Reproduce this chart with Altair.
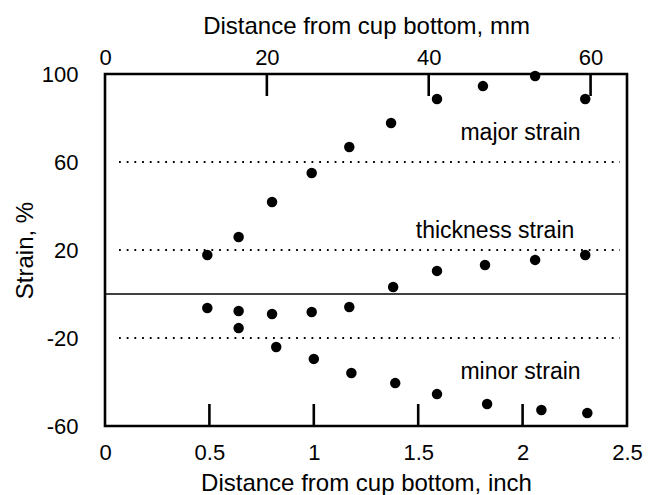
import altair as alt
import pandas as pd

FONT = "Liberation Sans"

# ---- data ----
major_x = [0.49, 0.64, 0.80, 0.99, 1.17, 1.37, 1.59, 1.81, 2.06, 2.30]
major_y = [17.7, 25.9, 41.8, 55.0, 66.8, 77.7, 88.6, 94.5, 99.1, 88.6]

thick_x = [0.49, 0.64, 0.80, 0.99, 1.17, 1.38, 1.59, 1.82, 2.06, 2.30]
thick_y = [-6.4, -7.7, -9.1, -8.2, -5.9, 3.2, 10.5, 13.2, 15.5, 17.7]

minor_x = [0.64, 0.82, 1.00, 1.18, 1.39, 1.59, 1.83, 2.09, 2.31]
minor_y = [-15.5, -24.1, -29.5, -35.9, -40.5, -45.5, -50.0, -52.7, -54.1]

label_text = ["major strain", "thickness strain", "minor strain"]
label_x = [1.99, 1.868, 1.99]
label_y = [73.2, 28.6, -35.5]

ref_dotted = [60, 20, -20]
ref_solid = [0]

inch_ticks = [0, 0.5, 1, 1.5, 2, 2.5]
inch_marks = [0.5, 1, 1.5, 2]
mm_ticks = [0, 20, 40, 60]
mm_marks = [20, 40, 60]
y_ticks = [-60, -20, 20, 60, 100]

W, H = 522, 352
TICK = 22
LBL = "'' + datum.value"

pts = pd.DataFrame({
    "x": major_x + thick_x + minor_x,
    "y": major_y + thick_y + minor_y,
})
labels = pd.DataFrame({"x": label_x, "y": label_y, "t": label_text})

X = alt.X("x:Q",
          scale=alt.Scale(domain=[0, 2.5], nice=False, zero=False),
          axis=alt.Axis(orient="bottom", values=inch_ticks, labelExpr=LBL,
                        labelPadding=16, titlePadding=8,
                        title="Distance from cup bottom, inch"))
Y = alt.Y("y:Q",
          scale=alt.Scale(domain=[-60, 100], nice=False, zero=False),
          axis=alt.Axis(values=y_ticks, labelExpr=LBL, labelPadding=27, titlePadding=4,
                        title="Strain, %"))

points = alt.Chart(pts).mark_circle(size=110, color="black", opacity=1).encode(x=X, y=Y)

zero = alt.Chart(pd.DataFrame({"y": ref_solid})).mark_rule(
    color="black", strokeWidth=1.6).encode(y=Y)

dotted = alt.Chart(pd.DataFrame({"y": ref_dotted})).mark_rule(
    color="black", strokeWidth=1.8, strokeDash=[1.8, 5.9]).encode(
    y=Y, x=alt.value(14), x2=alt.value(515))

bottom_marks = alt.Chart(pd.DataFrame({"x": inch_marks})).mark_rule(
    color="black", strokeWidth=2.6).encode(
    x=X, y=alt.value(H), y2=alt.value(H - TICK))

texts = alt.Chart(labels).mark_text(
    font=FONT, fontSize=23, color="black", align="center", baseline="middle").encode(
    x=X, y=Y, text="t:N")

inch_layer = alt.layer(zero, dotted, bottom_marks, points, texts)

top_marks = alt.Chart(pd.DataFrame({"mm": mm_marks})).mark_rule(
    color="black", strokeWidth=2.6).encode(
    x=alt.X("mm:Q",
            scale=alt.Scale(domain=[0, 64.5], nice=False, zero=False),
            axis=alt.Axis(orient="top", values=mm_ticks, labelExpr=LBL,
                          labelPadding=5, titlePadding=8,
                          title="Distance from cup bottom, mm")),
    y=alt.value(0), y2=alt.value(TICK))

chart = alt.layer(inch_layer, top_marks).resolve_scale(x="independent").properties(
    width=W, height=H,
    autosize=alt.AutoSizeParams(type="none"),
    padding={"left": 105, "top": 74, "right": 30, "bottom": 69},
    background="white",
).configure_axis(
    labelFont=FONT, titleFont=FONT, labelFontSize=22, titleFontSize=24,
    labelColor="black", titleColor="black", titleFontWeight="normal",
    tickSize=0, domain=False, grid=False, labelFlush=False, labelOverlap=False,
).configure_view(stroke="black", strokeWidth=2.6)

chart.save("out.html", embed_options={"renderer": "svg", "actions": False})
